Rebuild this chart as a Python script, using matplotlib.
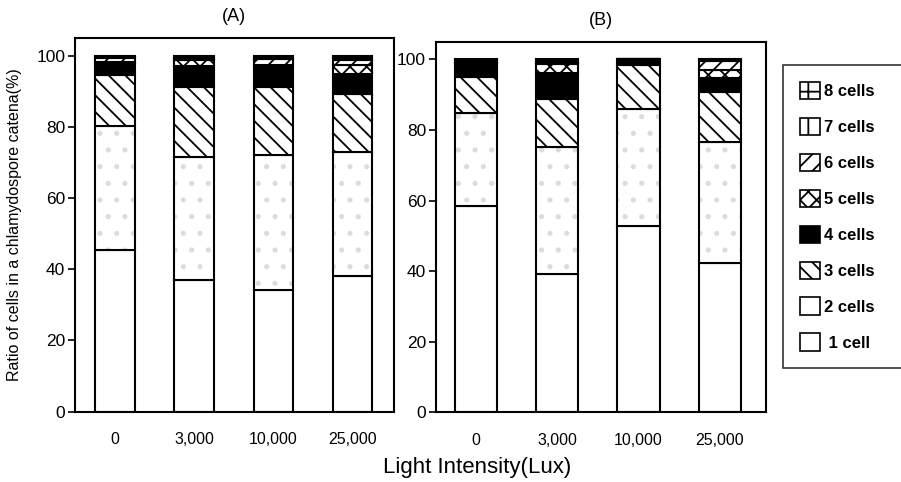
import matplotlib.pyplot as plt
import numpy as np
from matplotlib.patches import Patch

plt.rcParams['font.family'] = ['Liberation Sans', 'DejaVu Sans']
plt.rcParams['hatch.linewidth'] = 1.3

# x categories (Lux)
kategoriler = ['0', '3,000', '10,000', '25,000']
katman_adlari = [' 1 cell', '2 cells', '3 cells', '4 cells', '5 cells', '6 cells', '7 cells', '8 cells']

# Panel A, percent per catena size, order: 0, 3000, 10000, 25000
A_1 = [45.5, 37.0, 34.2, 38.0]
A_2 = [34.8, 34.7, 38.0, 35.1]
A_3 = [14.4, 19.5, 19.0, 16.2]
A_4 = [3.4, 6.0, 5.8, 5.6]
A_5 = [0.3, 1.7, 0.3, 2.6]
A_6 = [1.0, 0.3, 1.7, 1.2]
A_7 = [0.3, 0.3, 0.5, 0.6]
A_8 = [0.3, 0.5, 0.5, 0.7]

# Panel B
B_1 = [58.5, 39.1, 52.9, 42.2]
B_2 = [26.4, 36.1, 32.9, 34.3]
B_3 = [10.0, 13.7, 12.7, 14.2]
B_4 = [3.9, 7.2, 1.5, 4.1]
B_5 = [0.3, 2.7, 0.0, 2.3]
B_6 = [0.5, 0.3, 0.0, 2.3]
B_7 = [0.2, 0.5, 0.0, 0.3]
B_8 = [0.2, 0.4, 0.0, 0.3]

# (facecolor, hatch) for each layer
stiller = [
    ('white', ''),
    ('white', '.'),
    ('white', '\\\\'),
    ('black', ''),
    ('white', 'xx'),
    ('white', '//'),
    ('white', '|'),
    ('white', '+'),
]


def panel_ciz(ax, katmanlar, genislik):
    x = np.arange(len(kategoriler))
    alt = np.zeros(len(kategoriler))
    for i, degerler in enumerate(katmanlar):
        degerler = np.array(degerler)
        renk, tarama = stiller[i]
        if tarama == '.':
            # stippled fill: faint grey dots, then black outline on top
            ax.bar(x, degerler, genislik, bottom=alt, color='white', edgecolor='#dcdcdc',
                   hatch='.', linewidth=0)
            ax.bar(x, degerler, genislik, bottom=alt, fill=False, edgecolor='black', linewidth=1.5)
        else:
            ax.bar(x, degerler, genislik, bottom=alt, color=renk, edgecolor='black',
                   hatch=tarama, linewidth=1.5)
        alt = alt + degerler
    ax.set_ylim(0, 105)
    ax.set_yticks([0, 20, 40, 60, 80, 100])
    ax.set_xticks(x)
    ax.set_xticklabels(kategoriler, fontsize=11.5)
    ax.tick_params(axis='x', length=0, pad=15)
    ax.tick_params(axis='y', direction='out', length=5, width=1.2, labelsize=12.5, pad=2)
    for s in ax.spines.values():
        s.set_linewidth(1.5)


fig = plt.figure(figsize=(9.01, 4.82), dpi=100)

axA = fig.add_axes([0.0832, 0.146, 0.3538, 0.775])
panel_ciz(axA, [A_1, A_2, A_3, A_4, A_5, A_6, A_7, A_8], 0.5)
axA.set_xlim(-0.506, 3.52)
axA.set_title('(A)', fontsize=13, pad=12)
axA.set_ylabel('Ratio of cells in a chlamydospore catena(%)', fontsize=11.5, labelpad=10)

axB = fig.add_axes([0.4836, 0.1446, 0.3666, 0.7689])
panel_ciz(axB, [B_1, B_2, B_3, B_4, B_5, B_6, B_7, B_8], 0.52)
axB.set_xlim(-0.496, 3.57)
axB.set_title('(B)', fontsize=13, pad=12)

fig.text(0.53, 0.03, 'Light Intensity(Lux)', fontsize=16, ha='center', va='center')

# legend, top entry first
tutamaclar = []
for i in range(7, -1, -1):
    renk, tarama = stiller[i]
    if tarama == '.':
        tarama = ''
    tutamaclar.append(Patch(facecolor=renk, edgecolor='black', hatch=tarama, linewidth=1.2,
                            label=katman_adlari[i]))
leg = fig.legend(handles=tutamaclar, loc='upper left',
                 bbox_to_anchor=(0.869, 0.865, 0.15, 0.0), mode='expand',
                 frameon=True, fancybox=False, edgecolor='black',
                 prop={'weight': 'bold', 'size': 12},
                 handlelength=1.25, handleheight=1.25, handletextpad=0.2, labelspacing=1.1,
                 borderpad=1.0, borderaxespad=0)
leg.get_frame().set_linewidth(1.2)

plt.savefig('out.png', dpi=100)
